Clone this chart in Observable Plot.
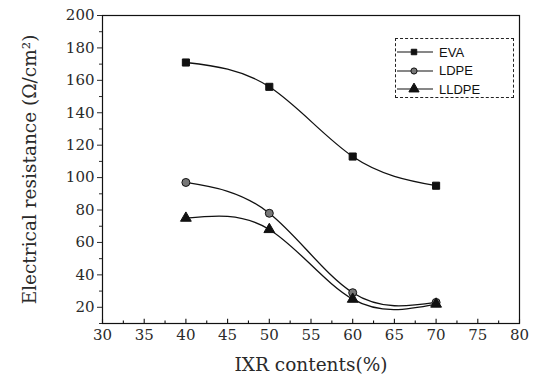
<!DOCTYPE html>
<html>
<head>
<meta charset="utf-8">
<script src="https://cdn.jsdelivr.net/npm/d3@7"></script>
<script src="https://cdn.jsdelivr.net/npm/@observablehq/plot@0.6"></script>
<style>
  html, body { margin: 0; padding: 0; background: #fff; }
  #wrap { position: relative; width: 536px; height: 378px; }
  #legend { position: absolute; left: 395px; top: 38px; width: 119px; height: 60px;
    border: 1px dashed #222; box-sizing: border-box; font-family: "Liberation Sans", Arial, sans-serif;
    font-size: 13px; line-height: 13px; color: #111; padding-top: 4px; overflow: visible; }
  #legend .row { display: flex; align-items: center; height: 18.5px; }
  #legend svg { margin-left: 1px; margin-right: 6px; }
</style>
</head>
<body>
<div id="wrap"><div id="chart"></div><div id="legend"></div></div>
<script>
const contents = [40, 50, 60, 70];
const eva = [171, 156, 113, 95];
const ldpe = [97, 78, 29, 23];
const lldpe = [75, 68, 25, 22];
const seriesNames = ["EVA", "LDPE", "LLDPE"];
const seriesSymbols = ["square", "circle", "triangle"];
const xTicks = [30, 35, 40, 45, 50, 55, 60, 65, 70, 75, 80];
const yTicks = [20, 40, 60, 80, 100, 120, 140, 160, 180, 200];

const seriesValues = [eva, ldpe, lldpe];
const data = [];
seriesNames.forEach((name, i) => contents.forEach((c, j) => data.push({series: name, x: c, y: seriesValues[i][j]})));

const xMinor = d3.range(32.5, 80, 5);
const yMinor = d3.range(10, 200, 20);

const chart = Plot.plot({
  width: 536, height: 378,
  marginLeft: 102, marginRight: 17, marginTop: 15, marginBottom: 55,
  style: {fontFamily: "'DejaVu Serif', serif", fontSize: "15px", color: "#2a2a2a", background: "#fff"},
  x: {domain: [30, 80], ticks: xTicks, label: null},
  y: {domain: [10, 200], ticks: yTicks, label: null},
  symbol: {domain: seriesNames, range: seriesSymbols},
  marks: [
    Plot.frame({stroke: "#111", strokeWidth: 1.2}),
    Plot.ruleX(xMinor, {x: d => d, y1: 10, y2: 11.6, stroke: "#111", strokeWidth: 1.1}),
    Plot.ruleX(xTicks, {x: d => d, y1: 10, y2: 12.6, stroke: "#111", strokeWidth: 1.1}),
    Plot.axisY({ticks: yMinor, tickSize: 3, tickFormat: () => "", label: null}),
    Plot.axisX({ticks: xTicks, tickSize: 0, tickPadding: 6, fontSize: 15}),
    Plot.axisY({ticks: yTicks, tickSize: 5, tickPadding: 3, fontSize: 15}),
    Plot.axisX({ticks: [], label: "IXR contents(%)", labelAnchor: "center", labelArrow: "none", labelOffset: 47, fontSize: 18.5}),
    Plot.axisY({ticks: [], label: "Electrical resistance (Ω/cm²)", labelAnchor: "center", labelArrow: "none", labelOffset: 80, fontSize: 18.5}),
    Plot.line(data, {x: "x", y: "y", z: "series", curve: "natural", stroke: "#111", strokeWidth: 1.3}),
    Plot.dot(data, {x: "x", y: "y", symbol: "series", fill: d => d.series === "LDPE" ? "#777" : "#111", stroke: "#111", strokeWidth: 1, r: 4})
  ]
});
document.getElementById("chart").appendChild(chart);

const leg = document.getElementById("legend");
seriesNames.forEach((name, i) => {
  const row = document.createElement("div");
  row.className = "row";
  const sym = d3.symbol(i === 0 ? d3.symbolSquare : i === 1 ? d3.symbolCircle : d3.symbolTriangle, i === 2 ? 45 : 30)();
  row.innerHTML = `<svg width="36" height="14"><line x1="0" x2="36" y1="7" y2="7" stroke="#111" stroke-width="1.2"/>
    <path d="${sym}" transform="translate(17,7)" fill="${i === 1 ? '#777' : '#111'}" stroke="#111"/></svg><span>${name}</span>`;
  leg.appendChild(row);
});
</script>
</body>
</html>
